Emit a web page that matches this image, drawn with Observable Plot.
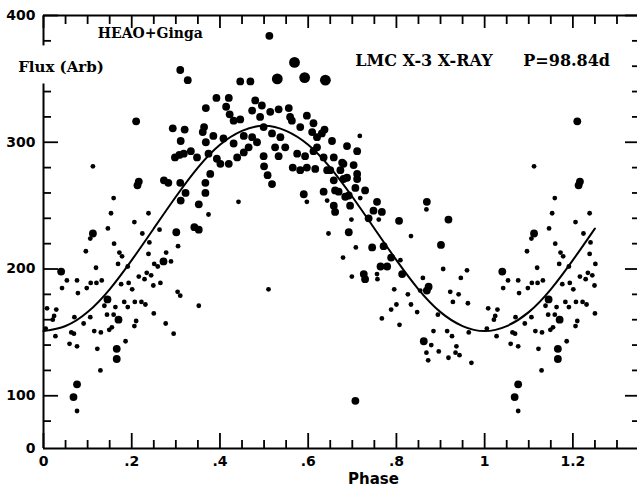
<!DOCTYPE html>
<html><head><meta charset="utf-8">
<script src="https://cdn.jsdelivr.net/npm/d3@7"></script>
<script src="https://cdn.jsdelivr.net/npm/@observablehq/plot@0.6"></script>
<style>body{margin:0;background:#fff}</style>
</head><body><div id="chart"></div>
<script>
// ---- data ----
const phase = [0.210,0.293,0.320,0.311,0.298,0.308,0.318,0.334,0.348,0.112,0.216,0.213,0.273,0.283,0.310,0.322,0.311,0.352,0.159,0.153,0.238,0.206,0.146,0.263,0.112,0.106,0.224,0.301,0.342,0.352,0.096,0.160,0.240,0.305,0.278,0.238,0.172,0.178,0.169,0.191,0.119,0.251,0.259,0.272,0.289,0.040,0.053,0.076,0.107,0.120,0.132,0.042,0.078,0.098,0.176,0.193,0.216,0.229,0.234,0.244,0.249,0.265,0.201,0.304,0.310,0.352,0.145,0.138,0.163,0.183,0.191,0.207,0.222,0.231,0.008,0.029,0.024,0.021,0.070,0.091,0.106,0.144,0.159,0.170,0.155,0.149,0.210,0.206,0.250,0.277,0.295,0.005,0.027,0.063,0.069,0.059,0.076,0.115,0.130,0.122,0.186,0.166,0.166,0.129,0.076,0.068,0.076,
0.310,0.327,0.392,0.368,0.446,0.469,0.512,0.569,0.592,0.639,0.530,0.420,0.480,0.414,0.422,0.473,0.491,0.514,0.533,0.556,0.431,0.446,0.364,0.361,0.385,0.374,0.408,0.431,0.454,0.473,0.484,0.499,0.518,0.537,0.548,0.563,0.582,0.597,0.609,0.631,0.575,0.593,0.620,0.393,0.401,0.420,0.439,0.454,0.378,0.367,0.367,0.374,0.442,0.499,0.500,0.508,0.518,0.533,0.565,0.582,0.597,0.616,0.643,0.590,0.597,0.635,0.643,0.646,0.510,0.495,0.559,0.525,0.465,0.368,
0.717,0.688,0.711,0.654,0.612,0.620,0.612,0.635,0.658,0.680,0.703,0.673,0.688,0.711,0.658,0.669,0.692,0.756,0.869,0.868,0.695,0.637,0.650,0.677,0.711,0.680,0.661,0.707,0.729,0.684,0.718,0.658,0.661,0.694,0.748,0.767,0.737,0.760,0.698,0.806,0.918,0.692,0.833,0.708,0.745,0.771,0.901,0.679,0.788,0.809,0.764,0.779,0.906,0.960,0.699,0.726,0.729,0.756,0.757,0.813,0.860,0.946,0.873,0.869,0.795,0.826,0.854,0.922,0.941,0.800,0.788,0.833,0.847,0.928,0.962,0.767,0.894,0.807,0.884,0.915,0.926,0.964,0.862,0.879,0.896,0.868,0.936,0.918,0.934,0.943,0.872,0.970,0.707];
const flux = [316.5,311,310,301,288,290,291,293,288,281,269,266,270,268,268,260,254,251,256,244,244,237,232,231,228,224,228,229,233,231,214,220,221,218,213,212,213,210,204,202,201,204,202,206,206,198,191,191,189,189,191,185,181,185,188,189,194,192,197,195,187,189,184,182,179,171,176,171,170,174,170,174,174,172,169,168,163,160,162,157,162,164,164,160,154,152,159,155,165,157,149,153,147,150,149,141,139,151,150,137,143,137,129,120,109,99,88,
357,349,335,327,348,348,384,363,351,349,350,335,333,328,322,325,320,324,326,327,317,318,312,308,305,291,303,299,305,304,300,312,307,304,296,317,312,321,308,307,291,289,296,287,283,283,288,292,275,268,260,243,253,289,281,274,267,289,280,278,280,279,278,259,253,261,254,228,184,329,320,296,296,300,
305,297,293,301,315,304,293,288,288,283,282,278,272,275,270,261,258,253,253,247,250,310,278,284,271,271,262,264,262,257,256,250,245,251,246,245,240,239,239,238,239,229,226,217,217,218,219,209,209,207,202,202,200,199,194,196,192,196,192,196,193,193,186,183,184,180,183,182,180,172,168,172,166,174,173,161,164,156,151,151,147,150,143,140,135,134,139,130,134,132,128,126,96];
const weight = [2,2,2,2,2,2,2,2,2,1,2,2,2,2,2,2,2,2,1,1,1,1,1,1,2,1,1,2,2,2,1,1,1,1,1,1,1,1,1,1,1,1,1,2,1,2,1,1,1,1,1,1,1,1,1,1,1,1,1,1,1,1,1,1,1,1,2,1,1,1,1,1,1,1,1,1,1,1,1,1,1,1,1,2,1,1,1,1,1,1,1,1,1,1,1,1,1,1,1,1,1,2,2,1,2,2,1,
2,2,2,2,2,2,2,3,3,3,3,2,2,2,2,2,2,2,2,2,2,2,2,2,2,2,2,2,2,2,2,2,2,2,2,2,2,2,2,2,2,2,2,2,2,2,2,2,2,2,2,1,1,2,2,2,2,2,2,2,2,2,2,2,1,2,1,1,1,2,2,2,2,2,
1,2,2,2,2,2,2,2,2,2,2,2,2,2,2,2,2,2,2,1,2,2,2,2,2,2,2,2,2,2,1,2,2,1,2,2,2,1,1,2,2,2,1,1,2,2,2,1,2,1,2,2,1,1,1,2,2,1,1,2,1,1,2,2,1,1,1,1,1,1,1,1,1,1,1,1,1,1,1,1,1,1,2,1,1,1,1,1,1,1,1,1,2];
const wrapLimit = 0.255;   // points this early in phase are repeated one cycle later

const curvePhase = [0,0.05,0.1,0.15,0.2,0.25,0.3,0.35,0.4,0.45,0.5,0.55,0.6,0.65,0.7,0.75,0.8,0.85,0.9,0.95,1.0,1.05,1.1,1.15,1.2,1.25];
const curveFlux  = [151,155,166,184,207,232,257,280,298,309,313,309,298,280,257,232,207,184,166,155,151,155,166,184,207,232];

const xMajorTicks = [0,0.2,0.4,0.6,0.8,1,1.2];
const xTickLabels = ["0",".2",".4",".6",".8","1","1.2"];
const xMinorTicks = [0.05,0.1,0.15,0.25,0.3,0.35,0.45,0.5,0.55,0.65,0.7,0.75,0.85,0.9,0.95,1.05,1.1,1.15,1.25,1.3];
const yLabelTicks = [58.4,100,200,300,400];
const yTickLabels = ["0","100","200","300","400"];
const yMajorTicks = [100,200,300,400];
const yMinorTicks = [80,120,140,160,180,220,240,260,280,320,340,360,380];
const leftAxisGap = [346,376];  // break in the left axis line behind "Flux (Arb)"

const xDomain = [0,1.3465];
const yDomain = [58.4,400];

// ---- tables built from the arrays ----
const base = phase.map((p,i)=>({p, f: flux[i], w: weight[i]}));
const points = base.concat(base.filter(d=>d.p<=wrapLimit).map(d=>({p: d.p+1, f: d.f, w: d.w})));
const curve = curvePhase.map((p,i)=>({p, f: curveFlux[i]}));
const xLab = new Map(xMajorTicks.map((d,i)=>[d,xTickLabels[i]]));
const yLab = new Map(yLabelTicks.map((d,i)=>[d,yTickLabels[i]]));
const leftSegs = [{y1: yDomain[0], y2: leftAxisGap[0]},{y1: leftAxisGap[1], y2: yDomain[1]}];
const leftMinor = yMinorTicks.filter(v=>v<leftAxisGap[0]||v>leftAxisGap[1]);

const sans = "DejaVu Sans";
const serif = "DejaVu Serif";

const chart = Plot.plot({
  width: 637, height: 490,
  marginLeft: 43, marginRight: 0, marginTop: 15, marginBottom: 42,
  style: {fontFamily: sans, fontSize: "14px", fontWeight: "bold", color: "black", background: "white"},
  x: {domain: xDomain},
  y: {domain: yDomain},
  r: {type: "linear", domain: [1,3], range: [2.4,5.4]},
  marks: [
    Plot.ruleY([yDomain[1]], {stroke: "black", strokeWidth: 2}),
    Plot.ruleY([yDomain[0]], {stroke: "black", strokeWidth: 2}),
    Plot.ruleX(leftSegs, {x: xDomain[0], y1: "y1", y2: "y2", stroke: "black", strokeWidth: 2}),
    // bottom
    Plot.axisX(xMajorTicks, {anchor: "bottom", tickSize: -15, fill: "none", label: null, strokeWidth: 1.8}),
    Plot.axisX(xMinorTicks, {anchor: "bottom", tickSize: -8, fill: "none", label: null, strokeWidth: 1.8}),
    Plot.axisX(xMajorTicks, {anchor: "bottom", tickSize: 0, tickPadding: 8, tickFormat: d=>xLab.get(d), label: null, fontSize: 14, fontWeight: "bold", fontFamily: sans}),
    // top
    Plot.axisX(xMajorTicks, {anchor: "top", tickSize: -12, fill: "none", label: null, strokeWidth: 1.8}),
    Plot.axisX(xMinorTicks, {anchor: "top", tickSize: -8, fill: "none", label: null, strokeWidth: 1.8}),
    // left
    Plot.axisY(yMajorTicks, {anchor: "left", tickSize: -15, fill: "none", label: null, strokeWidth: 1.8}),
    Plot.axisY(leftMinor, {anchor: "left", tickSize: -8, fill: "none", label: null, strokeWidth: 1.8}),
    Plot.axisY(yLabelTicks, {anchor: "left", tickSize: 0, tickPadding: 8, tickFormat: d=>yLab.get(d), label: null, fontSize: 14, fontWeight: "bold", fontFamily: sans}),
    // right
    Plot.axisY(yMajorTicks, {anchor: "right", tickSize: -13, fill: "none", label: null, strokeWidth: 1.8}),
    Plot.axisY(yMinorTicks, {anchor: "right", tickSize: -6, fill: "none", label: null, strokeWidth: 1.8}),
    // data
    Plot.line(curve, {x: "p", y: "f", stroke: "black", strokeWidth: 2, curve: "natural"}),
    Plot.dot(points, {x: "p", y: "f", r: "w", fill: "black", stroke: "none"}),
    // texts
    Plot.text(["HEAO+Ginga"], {x: 0.242, y: 385.7, text: d=>d, fontFamily: serif, fontWeight: "bold", fontSize: 14, textAnchor: "middle"}),
    Plot.text(["Flux (Arb)"], {x: -0.0574, y: 358.9, text: d=>d, fontFamily: serif, fontWeight: "bold", fontSize: 15, textAnchor: "start"}),
    Plot.text(["LMC X-3 X-RAY"], {x: 0.7068, y: 364.5, text: d=>d, fontFamily: serif, fontWeight: "bold", fontSize: 16, textAnchor: "start"}),
    Plot.text(["P=98.84d"], {x: 1.0877, y: 364.5, text: d=>d, fontFamily: serif, fontWeight: "bold", fontSize: 16, textAnchor: "start"}),
    Plot.text(["Phase"], {x: 0.748, frameAnchor: "bottom", dy: 35, text: d=>d, fontFamily: sans, fontWeight: "bold", fontSize: 15, textAnchor: "middle"})
  ]
});
document.getElementById("chart").appendChild(chart);
</script>
</body></html>
